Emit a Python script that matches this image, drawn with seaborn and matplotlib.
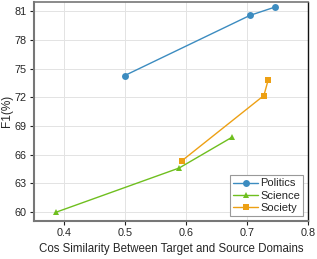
import pandas as pd
import matplotlib.pyplot as plt
import seaborn as sns

# Values
politics_x = [0.500, 0.705, 0.746]
politics_y = [74.27, 80.55, 81.42]
science_x = [0.388, 0.589, 0.676]
science_y = [60.00, 64.60, 67.83]
society_x = [0.593, 0.728, 0.735]
society_y = [65.33, 72.18, 73.80]

domains = ["Politics", "Science", "Society"]
colors = {"Politics": "#3c8cc0", "Science": "#6fbf1f", "Society": "#eda014"}
markers = {"Politics": "o", "Science": "^", "Society": "s"}

frames = []
for name, xs, ys in [("Politics", politics_x, politics_y),
                     ("Science", science_x, science_y),
                     ("Society", society_x, society_y)]:
    frames.append(pd.DataFrame({"cos": xs, "f1": ys, "domain": name}))
data = pd.concat(frames, ignore_index=True)

sns.set_style("whitegrid")
plt.rcParams["font.family"] = ["Liberation Sans", "DejaVu Sans"]

fig, ax = plt.subplots(figsize=(3.17, 2.59), dpi=100)
sns.lineplot(data=data, x="cos", y="f1", hue="domain", style="domain",
             hue_order=domains, style_order=domains, palette=colors,
             markers=markers, dashes=False, sort=False, markersize=5,
             markeredgewidth=0, linewidth=1.0, ax=ax)

ax.set_xlim(0.351, 0.8)
ax.set_ylim(59.1, 82.0)
ax.set_xticks([0.4, 0.5, 0.6, 0.7, 0.8])
ax.set_yticks([60, 63, 66, 69, 72, 75, 78, 81])
ax.set_xlabel("Cos Similarity Between Target and Source Domains", fontsize=8.3)
ax.set_ylabel("F1(%)", fontsize=8.5, labelpad=1)
ax.tick_params(axis="both", labelsize=7.8, direction="out", length=3, width=0.8,
               color="#222222", pad=2, left=True, bottom=True)
ax.grid(True, color="#e3e3e3", linewidth=0.7)

for side in ["left", "bottom", "top"]:
    ax.spines[side].set_color("#777777")
ax.spines["left"].set_linewidth(1.5)
ax.spines["bottom"].set_linewidth(1.5)
ax.spines["top"].set_linewidth(1.2)
ax.spines["right"].set_color("#111111")
ax.spines["right"].set_linewidth(1.0)

leg = ax.legend(loc="lower right", fontsize=8.0, fancybox=False, framealpha=1,
                handlelength=2.2, handletextpad=0.2, borderpad=0.3,
                labelspacing=0.2, borderaxespad=0.4)
leg.get_frame().set_edgecolor("#999999")
leg.get_frame().set_linewidth(0.8)

plt.subplots_adjust(left=0.107, right=0.971, top=0.994, bottom=0.148)
plt.savefig("out.png", dpi=100)
plt.close()
